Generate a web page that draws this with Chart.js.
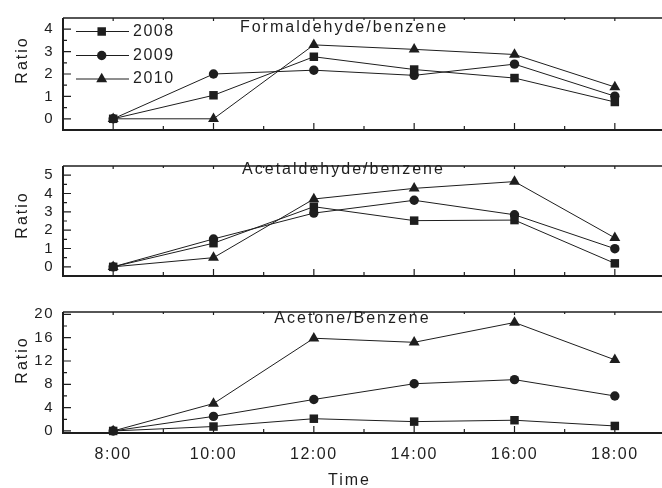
<!DOCTYPE html>
<html>
<head>
<meta charset="utf-8">
<script src="https://cdn.jsdelivr.net/npm/chart.js@4.4.1/dist/chart.umd.min.js"></script>
<style>
    html, body { margin: 0; padding: 0; background: #fff; overflow: hidden; }
    body { width: 662px; height: 488px; position: relative; }
    canvas { position: absolute; left: 0; }
</style>
</head>
<body>
<canvas id="formaldehydeChart" width="670" height="148" style="top:0"></canvas>
<canvas id="acetaldehydeChart" width="670" height="146" style="top:148px"></canvas>
<canvas id="acetoneChart" width="670" height="194" style="top:294px"></canvas>
<script>
const hours = [8, 10, 12, 14, 16, 18];
const years = ['2008', '2009', '2010'];

const formaldehyde2008 = [0, 1.05, 2.77, 2.2, 1.82, 0.75];
const formaldehyde2009 = [0, 2.0, 2.17, 1.94, 2.44, 1.01];
const formaldehyde2010 = [0, 0, 3.3, 3.1, 2.87, 1.42];
const formaldehydeTicks = [0, 1, 2, 3, 4];

const acetaldehyde2008 = [0, 1.29, 3.28, 2.52, 2.55, 0.19];
const acetaldehyde2009 = [0, 1.52, 2.93, 3.63, 2.84, 0.99];
const acetaldehyde2010 = [0, 0.5, 3.7, 4.28, 4.65, 1.58];
const acetaldehydeTicks = [0, 1, 2, 3, 4, 5];

const acetone2008 = [0, 0.76, 2.1, 1.6, 1.84, 0.86];
const acetone2009 = [0, 2.5, 5.4, 8.1, 8.8, 6.0];
const acetone2010 = [0, 4.7, 15.9, 15.2, 18.6, 12.2];
const acetoneTicks = [0, 4, 8, 12, 16, 20];

const FONT = "'Liberation Sans', Arial, sans-serif";
const INK = '#1e1e1e';
const markerStyles = [
    { pointStyle: 'rect', radius: 6 },
    { pointStyle: 'circle', radius: 4.7 },
    { pointStyle: 'triangle', radius: 6.3 }
];

Chart.defaults.font.family = FONT;
Chart.defaults.color = INK;

function spacedText(ctx, text, x, y, size, spacing, align) {
    ctx.font = size + 'px ' + FONT;
    ctx.letterSpacing = spacing + 'px';
    ctx.textAlign = align || 'center';
    ctx.textBaseline = 'middle';
    ctx.fillStyle = INK;
    ctx.fillText(text, x, y);
}

function framePlugin(opts) {
    return {
        id: 'panelFrame',
        beforeDraw(chart) {
            chart.ctx.letterSpacing = '1.5px';
        },
        afterDraw(chart) {
            const { ctx, chartArea: a } = chart;
            const x = chart.scales.x;
            const y = chart.scales.y;
            const step = opts.ticks[1] - opts.ticks[0];
            ctx.save();
            ctx.strokeStyle = INK;

            // frame (right side falls outside the window, as in the original)
            ctx.lineWidth = 1.3;
            ctx.beginPath();
            ctx.moveTo(a.left, a.top);
            ctx.lineTo(a.right, a.top);
            ctx.stroke();
            ctx.lineWidth = 2;
            ctx.beginPath();
            ctx.moveTo(a.left, a.top);
            ctx.lineTo(a.left, a.bottom);
            ctx.lineTo(a.right, a.bottom);
            ctx.stroke();

            // inward ticks, major + minor
            ctx.lineWidth = 1.2;
            ctx.beginPath();
            for (let h = Math.ceil(x.min); h <= x.max; h++) {
                const px = x.getPixelForValue(h);
                const major = hours.includes(h);
                ctx.moveTo(px, a.bottom);
                ctx.lineTo(px, a.bottom - (major ? 7 : 4));
                ctx.moveTo(px, a.top);
                ctx.lineTo(px, a.top + (major ? 3 : 2));
            }
            opts.ticks.forEach(v => {
                const py = y.getPixelForValue(v);
                ctx.moveTo(a.left, py);
                ctx.lineTo(a.left + 8, py);
                const mid = v + step / 2;
                if (mid < y.max) {
                    const pm = y.getPixelForValue(mid);
                    ctx.moveTo(a.left, pm);
                    ctx.lineTo(a.left + 4, pm);
                }
            });
            ctx.stroke();

            // panel label
            spacedText(ctx, opts.label, opts.labelX, opts.labelY, 16, 2);

            // y title
            ctx.save();
            ctx.translate(22.5, opts.ratioY);
            ctx.rotate(-Math.PI / 2);
            spacedText(ctx, 'Ratio', 0, 0, 16, 2);
            ctx.restore();

            if (opts.legend) {
                const rows = [31.5, 55.5, 79];
                chart.data.datasets.forEach((ds, i) => {
                    ctx.strokeStyle = INK;
                    ctx.lineWidth = 1;
                    ctx.beginPath();
                    ctx.moveTo(76, rows[i]);
                    ctx.lineTo(129, rows[i]);
                    ctx.stroke();
                    ctx.fillStyle = INK;
                    Chart.helpers.drawPoint(ctx, {
                        pointStyle: markerStyles[i].pointStyle,
                        radius: markerStyles[i].radius,
                        rotation: 0,
                        borderWidth: 0
                    }, 101.7, rows[i]);
                    spacedText(ctx, ds.label, 133, rows[i], 16, 1.5, 'left');
                });
            }

            if (opts.showTime) {
                spacedText(ctx, 'Time', 349.5, 186.5, 16, 2);
            }
            ctx.restore();
            ctx.letterSpacing = '0px';
        }
    };
}

function createPanel(id, series, opts) {
    const canvas = document.getElementById(id);
    const datasets = series.map((values, i) => ({
        label: years[i],
        data: hours.map((h, j) => ({ x: h, y: values[j] })),
        borderColor: INK,
        borderWidth: 1,
        backgroundColor: INK,
        pointBackgroundColor: INK,
        pointBorderWidth: 0,
        pointStyle: markerStyles[i].pointStyle,
        pointRadius: markerStyles[i].radius,
        tension: 0,
        clip: false
    }));

    new Chart(canvas, {
        type: 'line',
        data: { datasets },
        options: {
            responsive: false,
            animation: false,
            events: [],
            layout: {
                autoPadding: false,
                padding: { top: opts.padTop, right: 5, left: 0, bottom: 0 }
            },
            plugins: {
                legend: { display: false },
                tooltip: { enabled: false }
            },
            scales: {
                x: {
                    type: 'linear',
                    min: 7,
                    max: 19,
                    afterBuildTicks: s => { s.ticks = hours.map(v => ({ value: v })); },
                    afterFit: s => { s.height = opts.xHeight; },
                    grid: { display: false, drawTicks: false },
                    border: { display: false },
                    ticks: {
                        display: !!opts.showTime,
                        padding: 12,
                        maxRotation: 0,
                        autoSkip: false,
                        color: INK,
                        font: { size: 16 },
                        callback: v => v + ':00'
                    }
                },
                y: {
                    min: opts.min,
                    max: opts.max,
                    afterBuildTicks: s => { s.ticks = opts.ticks.map(v => ({ value: v })); },
                    afterFit: s => { s.width = 63; },
                    grid: { display: false, drawTicks: false },
                    border: { display: false },
                    ticks: {
                        padding: 9,
                        color: INK,
                        font: { size: 15 }
                    }
                }
            }
        },
        plugins: [framePlugin(opts)]
    });
}

createPanel('formaldehydeChart',
    [formaldehyde2008, formaldehyde2009, formaldehyde2010],
    { min: -0.5, max: 4.5, ticks: formaldehydeTicks, padTop: 13, xHeight: 6,
      label: 'Formaldehyde/benzene', labelX: 344, labelY: 28, ratioY: 60, legend: true });

createPanel('acetaldehydeChart',
    [acetaldehyde2008, acetaldehyde2009, acetaldehyde2010],
    { min: -0.5, max: 5.5, ticks: acetaldehydeTicks, padTop: 11, xHeight: 6,
      label: 'Acetaldehyde/benzene', labelX: 343.5, labelY: 22, ratioY: 67 });

createPanel('acetoneChart',
    [acetone2008, acetone2009, acetone2010],
    { min: -0.35, max: 20.4, ticks: acetoneTicks, padTop: 10, xHeight: 55,
      label: 'Acetone/Benzene', labelX: 352.5, labelY: 24.5, ratioY: 66, showTime: true });
</script>
</body>
</html>
